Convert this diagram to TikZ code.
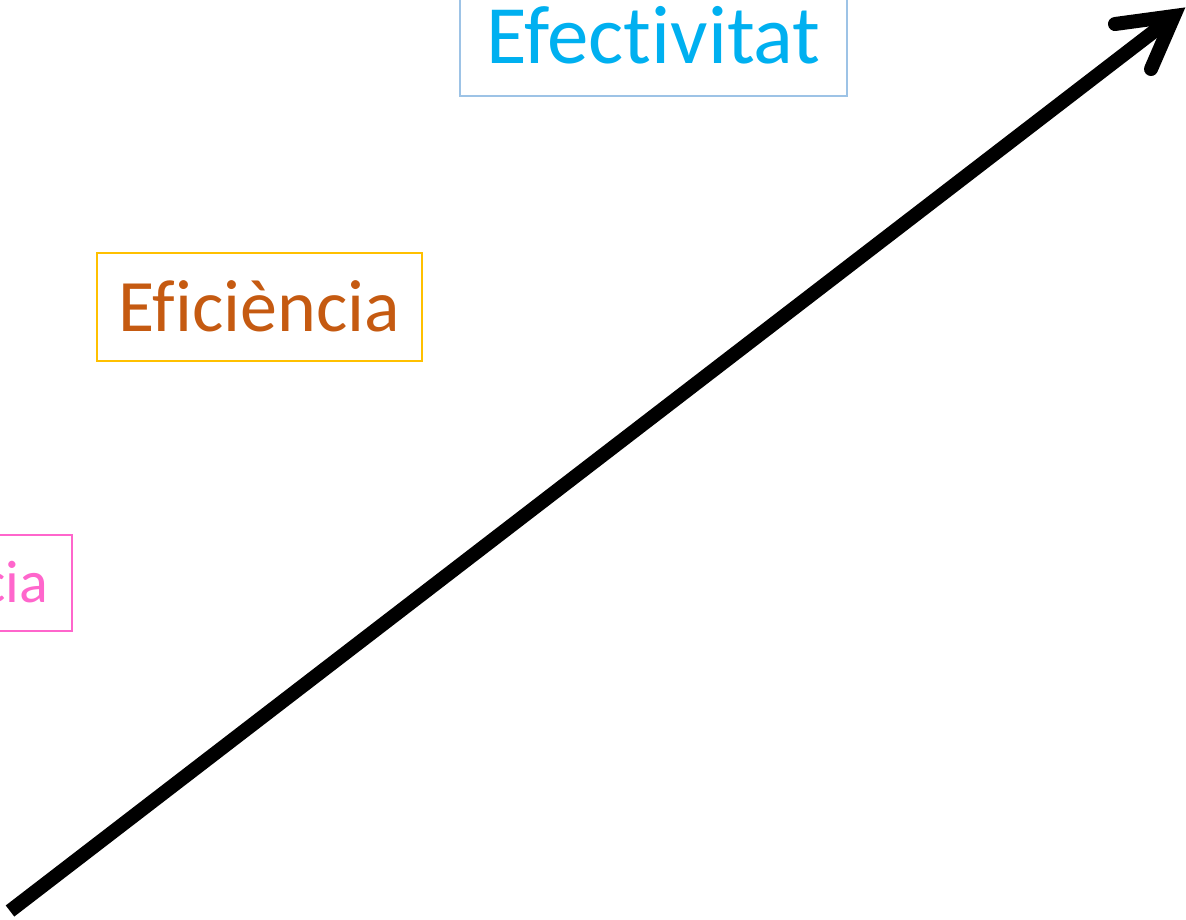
\documentclass[tikz,border=0pt]{standalone}
\usepackage{fontspec}
\setmainfont{Carlito}[Ligatures={NoCommon,NoContextual}]
\definecolor{efcol}{HTML}{00B0F0}
\definecolor{efbord}{HTML}{9DC3E6}
\definecolor{eficol}{HTML}{C55A11}
\definecolor{efibord}{HTML}{FFC000}
\definecolor{pinkcol}{HTML}{FF66CC}
\begin{document}
\begin{tikzpicture}[x=1pt,y=-1pt,
  labelbox/.style={draw, line width=1.6pt, inner sep=0pt, anchor=center},
  arrowline/.style={line width=14pt, black}]
\useasboundingbox (0,0) rectangle (1186,919);
\clip (0,0) rectangle (1186,919);
% boxes
\node[labelbox, draw=pinkcol, text=pinkcol, minimum width=228pt, minimum height=96pt,
      font=\fontsize{60}{60}\selectfont, text height=39pt, text depth=0pt]
  (efic) at (-42,583) {Eficàcia};
\node[labelbox, draw=efibord, text=eficol, minimum width=325pt, minimum height=108pt,
      font=\fontsize{74}{74}\selectfont, text height=48pt, text depth=0pt]
  (efi) at (259.5,307) {Eficiència};
\node[labelbox, draw=efbord, text=efcol, minimum width=387pt, minimum height=119pt,
      font=\fontsize{83}{83}\selectfont, text height=53pt, text depth=0pt]
  (efe) at (653.5,36.5) {Efectivitat};
% arrow
\coordinate (start) at (10,911);
\coordinate (tip) at (1174,16);
\coordinate (arm1) at (1115,24);
\coordinate (arm2) at (1151,69);
\draw[arrowline, line cap=butt] (start) -- (tip);
\draw[arrowline, line cap=round, line join=miter] (arm1) -- (tip) -- (arm2);
\end{tikzpicture}
\end{document}
